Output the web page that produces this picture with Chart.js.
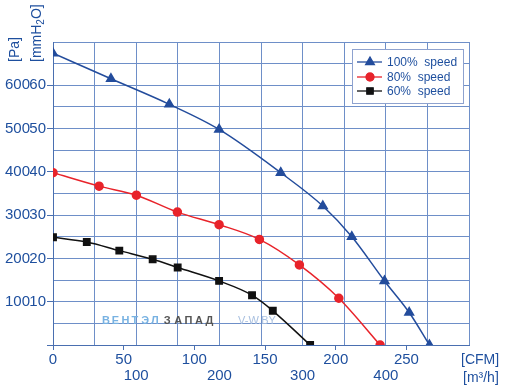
<!DOCTYPE html>
<html>
<head>
<meta charset="utf-8">
<script src="https://cdn.jsdelivr.net/npm/chart.js@4/dist/chart.umd.min.js"></script>
<style>
  html, body { margin: 0; padding: 0; background: #fff; }
</style>
</head>
<body>
<canvas id="fanChart" width="506" height="385"></canvas>
<script>
// Caudal en CFM, presión en mmH2O
const flow100 = [0, 41, 82.3, 117.5, 161.1, 190.9, 211.4, 234.5, 252, 266.3];
const press100 = [67.4, 61.5, 55.6, 49.8, 39.8, 32.1, 25.0, 14.8, 7.5, 0];
const flow80 = [0, 32.6, 59, 88, 117.5, 146, 174.3, 202.2, 231.4];
const press80 = [39.8, 36.7, 34.6, 30.7, 27.8, 24.4, 18.5, 10.8, 0];
const flow60 = [0, 23.9, 46.9, 70.5, 88.2, 117.5, 140.8, 155.5, 181.9];
const press60 = [24.9, 23.8, 21.8, 19.8, 17.9, 14.8, 11.5, 7.9, 0];
const seriesLabels = ['100%  speed', '80%  speed', '60%  speed'];

// Etiquetas de los ejes
const cfmTicks = [0, 50, 100, 150, 200, 250];
const m3hTicks = [100, 200, 300, 400];
const paTicks = [100, 200, 300, 400, 500, 600];
const mmTicks = [10, 20, 30, 40, 50, 60];

const CFM_TO_M3H = 1.699;
const M3H_MAX = 500;

const labelColor = '#1e4f9e';
const gridColor = '#6e8fc8';
const axisColor = '#4a6fb0';
const tickFont = { family: "'Liberation Sans', Arial, sans-serif", size: 15 };

const toPoints = (xs, ys) => xs.map((x, i) => ({ x: x, y: ys[i] }));

// Fondo blanco
const bgPlugin = {
    id: 'bg',
    beforeDraw(chart) {
        const c = chart.ctx;
        c.save();
        c.fillStyle = '#fff';
        c.fillRect(0, 0, chart.width, chart.height);
        c.restore();
    }
};

// Marca de agua
const watermark = {
    id: 'watermark',
    beforeDatasetsDraw(chart) {
        const c = chart.ctx;
        c.save();
        c.font = "bold 11px 'Liberation Sans', Arial, sans-serif";
        c.textBaseline = 'middle';
        let x = 102;
        for (const ch of 'ВЕНТЭЛ') {
            c.fillStyle = '#78b2e2';
            c.fillText(ch, x, 321);
            x += 9.8;
        }
        x += 3;
        for (const ch of 'ЗАПАД') {
            c.fillStyle = '#555';
            c.fillText(ch, x, 321);
            x += 10.4;
        }
        c.font = "11px 'Liberation Sans', Arial, sans-serif";
        c.fillStyle = '#a9c0e0';
        c.fillText('V-W.BY', 238, 321);
        c.restore();
    }
};

// Leyenda y unidades
const extras = {
    id: 'extras',
    afterDraw(chart) {
        const c = chart.ctx;
        c.save();
        // Leyenda
        c.fillStyle = '#fff';
        c.fillRect(352, 49, 112, 54);
        c.strokeStyle = '#8ea2cf';
        c.lineWidth = 1;
        c.strokeRect(352.5, 49.5, 111, 54);
        const rows = [62, 77, 91];
        chart.data.datasets.forEach((ds, i) => {
            const y = rows[i];
            c.strokeStyle = ds.borderColor;
            c.lineWidth = 1.3;
            c.beginPath();
            c.moveTo(357, y);
            c.lineTo(382, y);
            c.stroke();
            Chart.helpers.drawPoint(c, {
                pointStyle: ds.pointStyle,
                radius: ds.pointRadius,
                borderWidth: 1
            }, 370, y);
            c.fillStyle = ds.pointBackgroundColor;
            c.fill();
            c.fillStyle = labelColor;
            c.font = "12px 'Liberation Sans', Arial, sans-serif";
            c.textBaseline = 'middle';
            c.textAlign = 'left';
            c.fillText(ds.label, 387, y + 1);
        });

        // Unidades
        c.fillStyle = labelColor;
        c.font = "14px 'Liberation Sans', Arial, sans-serif";
        c.textBaseline = 'middle';
        c.textAlign = 'left';
        c.fillText('[CFM]', 461, 360);
        c.fillText('[m³/h]', 463, 378);

        c.save();
        c.translate(15, 62);
        c.rotate(-Math.PI / 2);
        c.fillText('[Pa]', 0, 0);
        c.restore();

        c.save();
        c.translate(37, 62);
        c.rotate(-Math.PI / 2);
        let x = 0;
        c.fillText('[mmH', x, 0);
        x += c.measureText('[mmH').width;
        c.font = "10px 'Liberation Sans', Arial, sans-serif";
        c.fillText('2', x, 4);
        x += c.measureText('2').width;
        c.font = "14px 'Liberation Sans', Arial, sans-serif";
        c.fillText('O]', x, 0);
        c.restore();

        c.restore();
    }
};

new Chart(document.getElementById('fanChart').getContext('2d'), {
    type: 'line',
    data: {
        datasets: [
            {
                label: seriesLabels[0],
                data: toPoints(flow100, press100),
                borderColor: '#234c9c',
                backgroundColor: '#234c9c',
                pointBackgroundColor: '#234c9c',
                pointBorderColor: '#234c9c',
                pointStyle: 'triangle',
                pointRadius: 5,
                borderWidth: 1.5,
                cubicInterpolationMode: 'monotone',
                clip: 0
            },
            {
                label: seriesLabels[1],
                data: toPoints(flow80, press80),
                borderColor: '#e8232a',
                backgroundColor: '#e8232a',
                pointBackgroundColor: '#e8232a',
                pointBorderColor: '#e8232a',
                pointStyle: 'circle',
                pointRadius: 4,
                borderWidth: 1.5,
                cubicInterpolationMode: 'monotone',
                clip: 0
            },
            {
                label: seriesLabels[2],
                data: toPoints(flow60, press60),
                borderColor: '#111',
                backgroundColor: '#111',
                pointBackgroundColor: '#111',
                pointBorderColor: '#111',
                pointStyle: 'rect',
                pointRadius: 4.5,
                borderWidth: 1.5,
                cubicInterpolationMode: 'monotone',
                clip: 0
            }
        ]
    },
    options: {
        responsive: false,
        animation: false,
        devicePixelRatio: 1,
        layout: { padding: { top: 42, right: 37, left: 0, bottom: 0 } },
        plugins: {
            legend: { display: false },
            tooltip: { enabled: false }
        },
        scales: {
            x: {
                type: 'linear',
                position: 'bottom',
                weight: 0,
                min: 0,
                max: M3H_MAX / CFM_TO_M3H,
                ticks: {
                    stepSize: 50,
                    includeBounds: false,
                    autoSkip: false,
                    maxRotation: 0,
                    padding: 1,
                    color: labelColor,
                    font: tickFont,
                    callback: v => cfmTicks.includes(v) ? String(v) : ''
                },
                grid: { drawOnChartArea: false, tickLength: 5, color: axisColor },
                border: { display: true, color: axisColor },
                afterFit: s => { s.height = 22; }
            },
            xm: {
                type: 'linear',
                position: 'bottom',
                weight: 1,
                min: 0,
                max: M3H_MAX,
                ticks: {
                    stepSize: 50,
                    autoSkip: false,
                    maxRotation: 0,
                    padding: 0,
                    color: labelColor,
                    font: tickFont,
                    callback: v => m3hTicks.includes(v) ? String(v) : ''
                },
                grid: { drawTicks: false, color: gridColor },
                border: { display: false },
                afterFit: s => { s.height = 18; }
            },
            y: {
                type: 'linear',
                position: 'left',
                weight: 0,
                min: 0,
                max: 70,
                ticks: {
                    stepSize: 5,
                    padding: 1,
                    color: labelColor,
                    font: tickFont,
                    callback: v => mmTicks.includes(v) ? String(v) : ''
                },
                grid: {
                    color: gridColor,
                    tickLength: 6,
                    tickColor: ctx => (ctx.tick && ctx.tick.value % 10 === 0 && ctx.tick.value < 70) ? axisColor : 'rgba(0,0,0,0)'
                },
                border: { color: axisColor },
                afterFit: s => { s.width = 23; }
            },
            yPa: {
                type: 'linear',
                position: 'left',
                weight: 1,
                min: 0,
                max: 700,
                ticks: {
                    stepSize: 100,
                    padding: 0,
                    color: labelColor,
                    font: tickFont,
                    callback: v => paTicks.includes(v) ? String(v) : ''
                },
                grid: { display: false, drawTicks: false },
                border: { display: false },
                afterFit: s => { s.width = 30; }
            }
        }
    },
    plugins: [bgPlugin, watermark, extras]
});
</script>
</body>
</html>
